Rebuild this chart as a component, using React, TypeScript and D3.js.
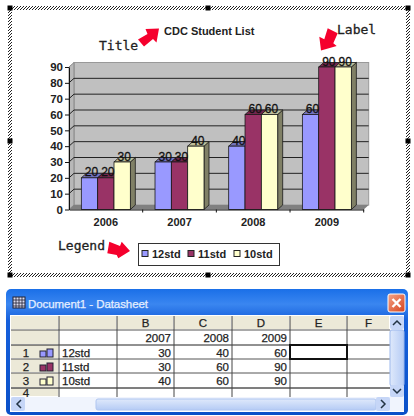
import React, { useRef, useEffect } from 'react';
import * as d3 from 'd3';

const years = ['2006', '2007', '2008', '2009'];
const seriesNames = ['12std', '11std', '10std'];
const values12 = [20, 30, 40, 60];
const values11 = [20, 30, 60, 90];
const values10 = [30, 40, 60, 90];
const yTicks = [0, 10, 20, 30, 40, 50, 60, 70, 80, 90];

const sheetYears = [2007, 2008, 2009];
const sheet12 = [30, 40, 60];
const sheet11 = [30, 60, 90];
const sheet10 = [40, 60, 90];

const colors = ['#9999ff', '#993366', '#ffffcc'];
const topColors = ['#7373bf', '#73264d', '#bfbf99'];
const sideColors = ['#5c5c99', '#5c1f3d', '#808066'];

const ARIAL = '"Liberation Sans", Arial, sans-serif';
const MONO = '"DejaVu Sans Mono", monospace';
const depthX = 5;
const depthY = 4.5;

const x = d3.scaleBand().domain(years).range([69, 363.7]).paddingInner(0.335).paddingOuter(0.1675);
const xSeries = d3.scaleBand().domain(seriesNames).range([0, x.bandwidth()]);
const y = d3.scaleLinear().domain([0, 90]).range([209.5, 67]);

const allValues = [values12, values11, values10];
const sheetRows = [sheet12, sheet11, sheet10];

// column edges of the datasheet
const colEdges = [11, 59, 117, 174, 232, 290, 347, 390];
const colLetters = ['', '', 'B', 'C', 'D', 'E', 'F'];
const rowEdges = [316, 330, 345, 359, 373, 388, 397];

// small text in the sheet, a bit heavier because the screenshot is soft
const sheetText = { fontFamily: ARIAL, fontSize: 11.5, fill: '#222', stroke: '#222', strokeWidth: 0.25 };

function App() {
    const ref = useRef<SVGSVGElement>(null);

    useEffect(() => {
        const svg = d3.select(ref.current);
        svg.selectAll('.axis').remove();

        const yAxis = svg.append('g')
            .attr('class', 'axis')
            .attr('transform', 'translate(69,0)')
            .call(d3.axisLeft(y).tickValues(yTicks).tickSize(4).tickSizeOuter(0).tickPadding(2));
        yAxis.selectAll('text')
            .style('font-family', ARIAL).style('font-size', '11.5px').style('font-weight', 'bold').attr('fill', '#222');
        yAxis.selectAll('line,path').attr('stroke', '#111');

        const xAxis = svg.append('g')
            .attr('class', 'axis')
            .attr('transform', 'translate(0,209.5)')
            .call(d3.axisBottom(x).tickSize(0).tickPadding(9));
        xAxis.select('path').attr('stroke', '#111');
        xAxis.selectAll('text')
            .style('font-family', ARIAL).style('font-size', '11px').style('font-weight', 'bold').attr('fill', '#222');
        years.forEach((yr, i) => {
            const px = 69 + x.step() * (i + 1);
            xAxis.append('line').attr('x1', px).attr('x2', px).attr('y1', 0).attr('y2', 3).attr('stroke', '#111');
        });
    }, []);

    const x0 = 69;
    const x1 = 363.7;

    return (
        <svg ref={ref} width={414} height={416} style={{ position: 'absolute', left: 0, top: 0, background: '#fff' }}>
            <defs>
                <pattern id="hatch" width="3" height="3" patternUnits="userSpaceOnUse">
                    <rect width="3" height="3" fill="#fff" />
                    <path d="M-1,1 L1,-1 M0,3 L3,0 M2,4 L4,2" stroke="#222" strokeWidth="1" />
                </pattern>
                <linearGradient id="titlebar" x1="0" x2="0" y1="0" y2="1">
                    <stop offset="0" stopColor="#1a6fe8" />
                    <stop offset="0.12" stopColor="#3a86f0" />
                    <stop offset="0.25" stopColor="#1660dc" />
                    <stop offset="1" stopColor="#0a50c8" />
                </linearGradient>
                <linearGradient id="scrollH" x1="0" x2="0" y1="0" y2="1">
                    <stop offset="0" stopColor="#dfe9fb" />
                    <stop offset="1" stopColor="#b5cbf5" />
                </linearGradient>
                <linearGradient id="scrollV" x1="0" x2="1" y1="0" y2="0">
                    <stop offset="0" stopColor="#dfe9fb" />
                    <stop offset="1" stopColor="#b5cbf5" />
                </linearGradient>
                <linearGradient id="closeBtn" x1="0" x2="1" y1="0" y2="1">
                    <stop offset="0" stopColor="#f2a488" />
                    <stop offset="1" stopColor="#d8431c" />
                </linearGradient>
            </defs>

            {/* selection frame */}
            <path d="M8,6 H410 V277 H8 Z M12,10 V273 H406 V10 Z" fill="url(#hatch)" fillRule="evenodd" />
            {[[10, 8], [208, 8], [408, 8], [10, 141], [408, 141], [10, 275], [208, 275], [408, 275]].map(([hx, hy], i) => (
                <rect key={i} x={hx - 2.5} y={hy - 2.5} width={5} height={5} fill="#000" />
            ))}

            <text x={164} y={35} fontFamily={ARIAL} fontSize={11} fontWeight="bold" fill="#222">CDC Student List</text>
            <text x={99} y={50} fontFamily={MONO} fontSize={13} fill="#222" stroke="#222" strokeWidth={0.3}>Title</text>
            <text x={337} y={34} fontFamily={MONO} fontSize={13} fill="#222" stroke="#222" strokeWidth={0.3}>Label</text>
            <text x={58} y={250} fontFamily={MONO} fontSize={13} fill="#222" stroke="#222" strokeWidth={0.3}>Legend</text>
            <polygon points="159,28.5 145.5,29 147.5,34 138,39.5 144,46.5 153,39 156.5,42.5" fill="#f5002d" />
            <polygon points="321,50.5 319.3,36.7 324.3,39.3 327.7,28.3 337.7,33.3 333.3,43.3 336.7,46" fill="#f5002d" />
            <polygon points="130,251 121.7,241.7 120,246 109.3,241.7 107.3,253.3 116.7,255 118.3,258.3" fill="#f5002d" />

            {/* plot walls */}
            <rect x={x0 + depthX} y={y(90) - depthY} width={x1 - x0} height={y(0) - y(90)} fill="#c0c0c0" stroke="#999" />
            <polygon
                points={`${x0},${y(90)} ${x0 + depthX},${y(90) - depthY} ${x0 + depthX},${y(0) - depthY} ${x0},${y(0)}`}
                fill="#b8b8b8" stroke="#888"
            />
            <polygon
                points={`${x0},${y(0)} ${x0 + depthX},${y(0) - depthY} ${x1 + depthX},${y(0) - depthY} ${x1},${y(0)}`}
                fill="#808080"
            />
            {yTicks.filter((t) => t > 0 && t < 90).map((t) => (
                <path
                    key={t}
                    d={`M${x0},${y(t)} L${x0 + depthX},${y(t) - depthY} H${x1 + depthX}`}
                    fill="none" stroke="#222" strokeWidth={1}
                />
            ))}

            {/* bars */}
            {years.map((yr, i) => (
                <g key={yr}>
                    {seriesNames.map((s, k) => {
                        const v = allValues[k][i];
                        const bx = (x(yr) as number) + (xSeries(s) as number);
                        const bw = xSeries.bandwidth();
                        const ty = y(v);
                        const by = y(0);
                        return (
                            <g key={s} stroke="#1a1a1a" strokeWidth={0.8}>
                                <polygon
                                    points={`${bx + bw},${ty} ${bx + bw + depthX},${ty - depthY} ${bx + bw + depthX},${by - depthY} ${bx + bw},${by}`}
                                    fill={sideColors[k]}
                                />
                                <polygon
                                    points={`${bx},${ty} ${bx + depthX},${ty - depthY} ${bx + bw + depthX},${ty - depthY} ${bx + bw},${ty}`}
                                    fill={topColors[k]}
                                />
                                <rect x={bx} y={ty} width={bw} height={by - ty} fill={colors[k]} />
                            </g>
                        );
                    })}
                </g>
            ))}
            {years.map((yr, i) =>
                seriesNames.map((s, k) => {
                    const v = allValues[k][i];
                    const bx = (x(yr) as number) + (xSeries(s) as number) + xSeries.bandwidth() / 2 + 2;
                    return (
                        <text key={yr + s} x={bx} y={y(v) - 1.5} textAnchor="middle" fontFamily={ARIAL} fontSize={12} fill="#111" stroke="#111" strokeWidth={0.3}>
                            {v}
                        </text>
                    );
                })
            )}

            {/* legend */}
            <rect x={138.5} y={243.5} width={141} height={22} fill="#fff" stroke="#333" />
            {seriesNames.map((s, k) => {
                const lx = [142, 188, 234][k];
                return (
                    <g key={s}>
                        <rect x={lx} y={250.5} width={6} height={6} fill={colors[k]} stroke="#222" />
                        <text x={lx + 10} y={258} fontFamily={ARIAL} fontSize={11} fontWeight="bold" fill="#222">{s}</text>
                    </g>
                );
            })}

            {/* datasheet window */}
            <rect x={6} y={289} width={402} height={126} rx={5} fill="url(#titlebar)" />
            <rect x={10} y={315} width={394} height={97} fill="#fff" />
            <g>
                <rect x={13} y={297} width={12} height={11} fill="#dde" stroke="#223" />
                <path d="M13,300 H25 M13,303 H25 M13,306 H25 M16,297 V308 M19,297 V308 M22,297 V308" stroke="#223" strokeWidth={0.8} />
                <text x={28} y={308} fontFamily={ARIAL} fontSize={11.5} fill="#e4eeff" stroke="#e4eeff" strokeWidth={0.25} textLength={120}>Document1 - Datasheet</text>
            </g>
            <rect x={388} y={294} width={17} height={18} rx={2} fill="url(#closeBtn)" stroke="#fff" />
            <path d="M392.5,299 L400.5,307 M400.5,299 L392.5,307" stroke="#fff" strokeWidth={2.4} />

            {/* header row */}
            {colLetters.map((c, i) => (
                <g key={i}>
                    <rect x={colEdges[i]} y={rowEdges[0]} width={colEdges[i + 1] - colEdges[i] - 1} height={13} fill="#ece9d8" />
                    <text {...sheetText} x={(colEdges[i] + colEdges[i + 1]) / 2} y={rowEdges[0] + 11} textAnchor="middle">{c}</text>
                </g>
            ))}
            {rowEdges.slice(1, -1).map((ry, i) => (
                <rect key={ry} x={11} y={ry} width={47} height={rowEdges[i + 2] - ry - 1} fill="#ece9d8" />
            ))}
            {rowEdges.slice(1, -1).map((ry) => (
                <line key={ry} x1={11} x2={390} y1={ry} y2={ry} stroke={ry === 345 ? '#222' : '#555'} />
            ))}
            <line x1={11} x2={390} y1={388} y2={388} stroke="#555" />
            {colEdges.slice(1, -1).map((cx) => (
                <line key={cx} x1={cx} x2={cx} y1={316} y2={397} stroke="#444" />
            ))}

            {/* year row */}
            {sheetYears.map((yr, i) => (
                <text {...sheetText} key={yr} x={colEdges[i + 3] - 3} y={342} textAnchor="end">{yr}</text>
            ))}
            {/* data rows */}
            {seriesNames.map((s, r) => (
                <g key={s}>
                    <text {...sheetText} x={26} y={rowEdges[r + 2] + 12} textAnchor="middle">{r + 1}</text>
                    <rect x={40} y={rowEdges[r + 2] + 6} width={6} height={6} fill={colors[r]} stroke="#223" />
                    <rect x={47} y={rowEdges[r + 2] + 4} width={6} height={8} fill={colors[r]} stroke="#223" />
                    <text {...sheetText} x={62} y={rowEdges[r + 2] + 12}>{s}</text>
                    {sheetRows[r].map((v, i) => (
                        <text {...sheetText} key={i} x={colEdges[i + 3] - 3} y={rowEdges[r + 2] + 12} textAnchor="end">{v}</text>
                    ))}
                </g>
            ))}
            <text {...sheetText} x={26} y={397} textAnchor="middle">4</text>
            <rect x={290} y={345} width={57} height={14} fill="#fff" stroke="#111" strokeWidth={2} />

            {/* scrollbars */}
            <rect x={390} y={316} width={14} height={95} fill="#f0f4fd" />
            <rect x={390} y={330} width={14} height={56} rx={2} fill="url(#scrollV)" stroke="#9db8ec" />
            <rect x={390} y={316} width={14} height={13} rx={2} fill="#c6d6f7" />
            <rect x={390} y={385} width={14} height={12} rx={2} fill="#c6d6f7" />
            <path d="M393,325 L397,321 L401,325 M393,389 L397,393 L401,389" fill="none" stroke="#234" strokeWidth={1.5} />
            <rect x={11} y={397} width={393} height={14} fill="#f0f4fd" />
            <rect x={96} y={399} width={280} height={11} rx={2} fill="url(#scrollH)" stroke="#b0c6f0" />
            <rect x={11} y={397} width={14} height={14} rx={2} fill="#c6d6f7" />
            <rect x={376} y={397} width={14} height={14} rx={2} fill="#c6d6f7" />
            <path d="M21,400 L17,404 L21,408 M381,400 L385,404 L381,408" fill="none" stroke="#234" strokeWidth={1.5} />
        </svg>
    );
}

export default App;
